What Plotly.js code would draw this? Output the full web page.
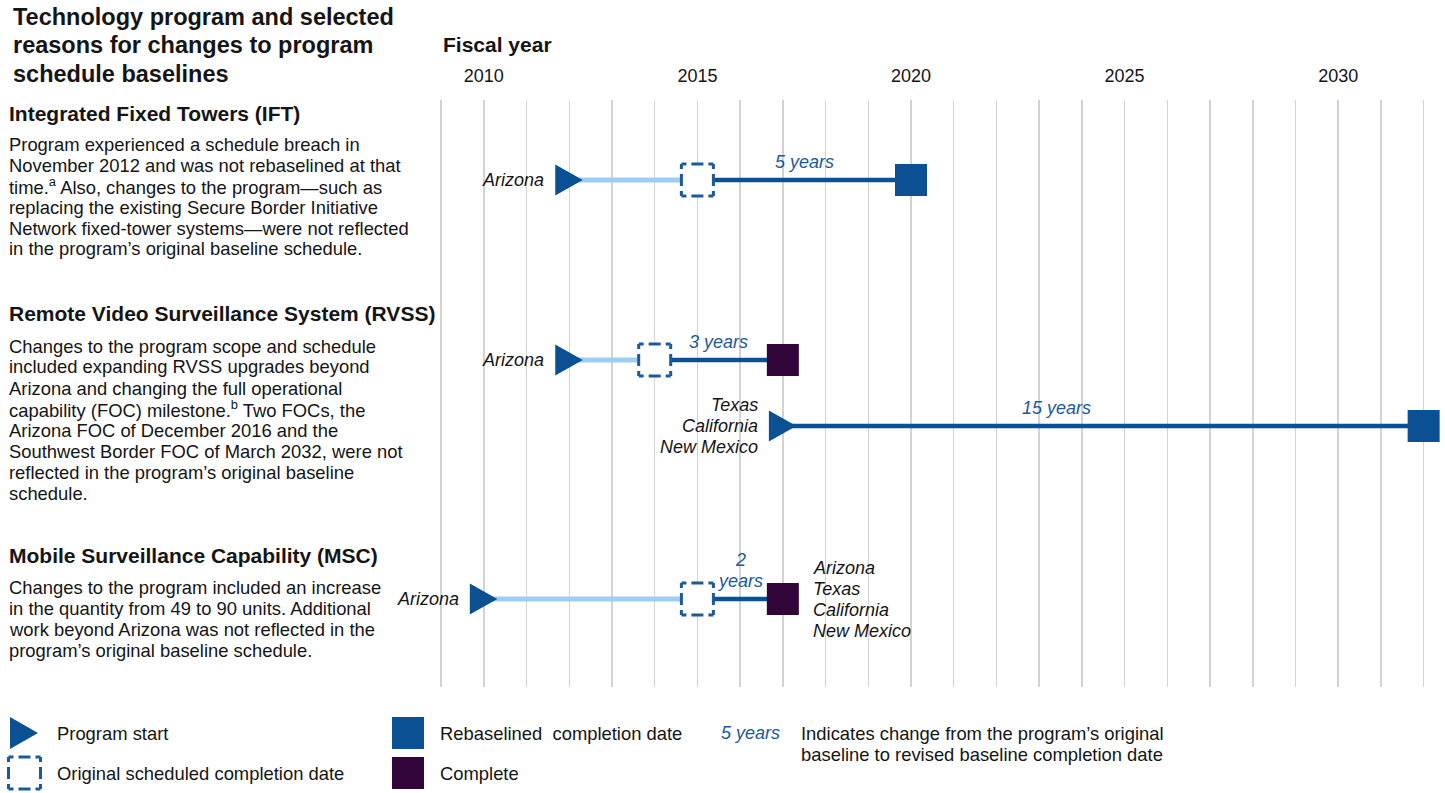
<!DOCTYPE html>
<html>
<head>
<meta charset="utf-8">
<script src="https://cdn.plot.ly/plotly-3.0.1.min.js"></script>
<style>html,body{margin:0;padding:0;background:#fff;}#chart{width:1445px;height:793px;}</style>
</head>
<body>
<div id="chart"></div>
<script>
// ---------------- DATA ----------------
const rowPrograms = ['IFT', 'RVSS', 'RVSS', 'MSC'];
const rowLocationsLeft = ['Arizona', 'Arizona', 'Texas<br>California<br>New Mexico', 'Arizona'];
const rowLocationsRight = ['', '', '', 'Arizona<br>Texas<br>California<br>New Mexico'];
const programStart = [2012, 2012, 2017, 2010];
const originalCompletion = [2015, 2014, null, 2015];
const revisedCompletion = [2020, 2017, 2032, 2017];
const completionStatus = ['Rebaselined', 'Complete', 'Rebaselined', 'Complete'];
const changeLabels = ['5 years', '3 years', '15 years', '2<br>years'];
const tickYears = [2010, 2015, 2020, 2025, 2030];

const titleLines = ['Technology program and selected', 'reasons for changes to program', 'schedule baselines'];
const programHeadings = ['Integrated Fixed Towers (IFT)', 'Remote Video Surveillance System (RVSS)', 'Mobile Surveillance Capability (MSC)'];
const programNotes = [
  ['Program experienced a schedule breach in',
   'November 2012 and was not rebaselined at that',
   'time.<sup>a</sup> Also, changes to the program\u2014such as',
   'replacing the existing Secure Border Initiative',
   'Network fixed-tower systems\u2014were not reflected',
   'in the program\u2019s original baseline schedule.'],
  ['Changes to the program scope and schedule',
   'included expanding RVSS upgrades beyond',
   'Arizona and changing the full operational',
   'capability (FOC) milestone.<sup>b</sup> Two FOCs, the',
   'Arizona FOC of December 2016 and the',
   'Southwest Border FOC of March 2032, were not',
   'reflected in the program\u2019s original baseline',
   'schedule.'],
  ['Changes to the program included an increase',
   'in the quantity from 49 to 90 units. Additional',
   'work beyond Arizona was not reflected in the',
   'program\u2019s original baseline schedule.']
];

// ---------------- LAYOUT CONSTANTS ----------------
const W = 1445, H = 793;
const FONT = 'Liberation Sans, Arial, Helvetica, sans-serif';
const DARK = '#0a5093', LIGHT = '#9fcdf3', PURPLE = '#32053a', LABELBLUE = '#1d5a98', TXT = '#151515', GRID = '#d3d3d3';
const FS = 18.4;
const rowY = [180, 360, 426, 599];            // vertical row positions (page px)
const changeLabelShift = [0, 0, -47, 0];      // horizontal label nudges (px)
const headingY = [113, 313, 555];
const noteY0 = [144, 346, 587];
const LINE = 21;
const statusColor = {Rebaselined: DARK, Complete: PURPLE};
const DASH = '5px,5px,12px,5px,5px,0px';
const TRI = 'M-14,15.5 L13.5,0 L-14,-15.5 Z';

const P = (px, py) => ({x: px / W, y: 1 - py / H});

// ---------------- TRACES ----------------
const traces = [];
for (let i = 0; i < programStart.length; i++) {
  if (originalCompletion[i] !== null) {
    traces.push({x: [programStart[i], originalCompletion[i]], y: [rowY[i], rowY[i]], mode: 'lines',
      line: {color: LIGHT, width: 5}, hoverinfo: 'skip', showlegend: false});
  }
  const from = originalCompletion[i] !== null ? originalCompletion[i] : programStart[i];
  traces.push({x: [from, revisedCompletion[i]], y: [rowY[i], rowY[i]], mode: 'lines',
    line: {color: DARK, width: 4.5}, hoverinfo: 'skip', showlegend: false});
}
traces.push({x: revisedCompletion, y: rowY, mode: 'markers', showlegend: false,
  marker: {symbol: 'square', size: 32, color: completionStatus.map(s => statusColor[s]), line: {width: 0}}});

// legend symbols (page-pixel axes x2/y2)
traces.push({x: [408, 408], y: [733, 773], xaxis: 'x2', yaxis: 'y2', mode: 'markers', showlegend: false,
  marker: {symbol: 'square', size: 32, color: [statusColor.Rebaselined, statusColor.Complete], line: {width: 0}}});

// ---------------- SHAPES ----------------
const shapes = [];
// program start triangles anchored at data positions
for (let i = 0; i < programStart.length; i++) {
  shapes.push({type: 'path', xref: 'x', yref: 'y', xsizemode: 'pixel', ysizemode: 'pixel',
    xanchor: programStart[i], yanchor: rowY[i], path: TRI,
    fillcolor: DARK, line: {width: 0}, layer: 'above'});
}
// original scheduled completion (dashed squares)
for (let i = 0; i < originalCompletion.length; i++) {
  if (originalCompletion[i] === null) continue;
  shapes.push({type: 'rect', xref: 'x', yref: 'y', xsizemode: 'pixel', ysizemode: 'pixel',
    xanchor: originalCompletion[i], yanchor: rowY[i], x0: -16, x1: 16, y0: 16, y1: -16,
    fillcolor: '#ffffff', line: {color: LABELBLUE, width: 3, dash: DASH}, layer: 'above'});
}
// legend symbols
shapes.push({type: 'path', xref: 'x2', yref: 'y2', xsizemode: 'pixel', ysizemode: 'pixel',
  xanchor: 24, yanchor: 733, path: 'M-14,16 L14,0 L-14,-16 Z', fillcolor: DARK, line: {width: 0}, layer: 'above'});
shapes.push({type: 'rect', xref: 'x2', yref: 'y2', x0: 8.5, x1: 40.5, y0: 757, y1: 789,
  fillcolor: 'rgba(0,0,0,0)', line: {color: LABELBLUE, width: 3, dash: DASH}, layer: 'above'});

// ---------------- ANNOTATIONS ----------------
const ann = [];
function pageText(text, px, py, size, opts) {
  const p = P(px, py);
  ann.push(Object.assign({xref: 'paper', yref: 'paper', x: p.x, y: p.y, xanchor: 'left', yanchor: 'middle',
    showarrow: false, align: 'left', text: text, font: {family: FONT, size: size, color: TXT}}, opts || {}));
}
titleLines.forEach((t, k) => pageText('<b>' + t + '</b>', 11, 17 + k * 28.5, 23.5));
pageText('<b>Fiscal year</b>', 441, 44, 21);
programHeadings.forEach((h, k) => pageText('<b>' + h + '</b>', 7, headingY[k], 21));
programNotes.forEach((lines, k) => lines.forEach((t, j) => pageText(t, 7, noteY0[k] + j * LINE, FS)));

for (let i = 0; i < programStart.length; i++) {
  const lefts = rowLocationsLeft[i].split('<br>');
  lefts.forEach((t, j) => ann.push({xref: 'x', yref: 'y', x: programStart[i], y: rowY[i], xanchor: 'right', yanchor: 'middle',
    xshift: -23, yshift: -((j - (lefts.length - 1) / 2) * LINE), showarrow: false,
    text: '<i>' + t + '</i>', font: {family: FONT, size: 18, color: TXT}}));
  if (rowLocationsRight[i]) {
    const rights = rowLocationsRight[i].split('<br>');
    rights.forEach((t, j) => ann.push({xref: 'x', yref: 'y', x: revisedCompletion[i], y: rowY[i], xanchor: 'left', yanchor: 'middle',
      xshift: 28, yshift: -((j - (rights.length - 1) / 2) * LINE), showarrow: false,
      text: '<i>' + t + '</i>', font: {family: FONT, size: 18, color: TXT}}));
  }
  const from = originalCompletion[i] !== null ? originalCompletion[i] : programStart[i];
  const cl = changeLabels[i].split('<br>');
  cl.forEach((t, j) => ann.push({xref: 'x', yref: 'y', x: (from + revisedCompletion[i]) / 2, y: rowY[i],
    xanchor: 'center', yanchor: 'middle', xshift: changeLabelShift[i], yshift: 18 + (cl.length - 1 - j) * LINE, showarrow: false,
    text: '<i>' + t + '</i>', font: {family: FONT, size: 18, color: LABELBLUE}}));
}

// legend texts
pageText('Program start', 55, 733, FS);
pageText('Original scheduled completion date', 55, 773, FS);
pageText('Rebaselined\u00a0 completion date', 438, 733, FS);
pageText('Complete', 438, 773, FS);
pageText('<i>' + changeLabels[0] + '</i>', 782, 733, 18, {xanchor: 'right', font: {family: FONT, size: 18, color: LABELBLUE}});
pageText('Indicates change from the program\u2019s original', 799, 733, FS);
pageText('baseline to revised baseline completion date', 799, 754, FS);

// ---------------- LAYOUT ----------------
const layout = {
  width: W, height: H,
  margin: {l: 0, r: 0, t: 0, b: 0, autoexpand: false},
  paper_bgcolor: '#ffffff', plot_bgcolor: 'rgba(0,0,0,0)',
  showlegend: false,
  font: {family: FONT, color: TXT},
  xaxis: {domain: [424 / W, 1], range: [2008.6, 2032.5], side: 'top', tickmode: 'array', tickvals: tickYears,
    ticktext: tickYears.map(String), tickfont: {family: FONT, size: 18, color: TXT}, ticks: '',
    showgrid: true, gridcolor: GRID, gridwidth: 1.5, zeroline: false, showline: false, fixedrange: true,
    ticklabelstandoff: 13,
    minor: {tickmode: 'linear', tick0: 2009, dtick: 1, showgrid: true, gridcolor: GRID, gridwidth: 1.5, ticks: ''}},
  yaxis: {domain: [(H - 687) / H, (H - 100) / H], range: [687, 100], visible: false, showgrid: false, zeroline: false, fixedrange: true},
  xaxis2: {domain: [0, 1], range: [0, W], anchor: 'y2', visible: false, showgrid: false, zeroline: false},
  yaxis2: {domain: [0, 1], range: [H, 0], anchor: 'x2', visible: false, showgrid: false, zeroline: false},
  shapes: shapes,
  annotations: ann
};

Plotly.newPlot('chart', traces, layout, {displayModeBar: false, staticPlot: true});
</script>
</body>
</html>
